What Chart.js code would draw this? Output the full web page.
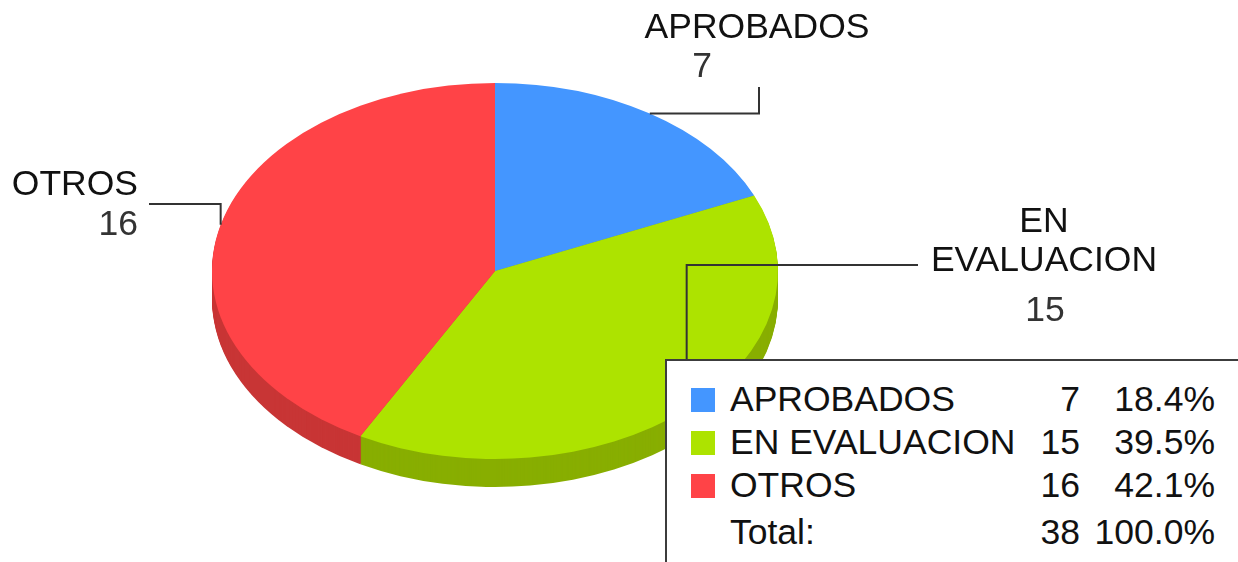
<!DOCTYPE html>
<html>
<head>
<meta charset="utf-8">
<script src="https://cdn.jsdelivr.net/npm/chart.js@4.4.0/dist/chart.umd.min.js"></script>
<style>
  html, body { margin: 0; padding: 0; background: #fff; overflow: hidden; }
  #root { position: relative; width: 1238px; height: 562px; overflow: hidden; font-family: "Liberation Sans", Arial, sans-serif; }
  #root canvas { position: absolute; left: 0; top: 0; }
  .txt { position: absolute; font-size: 35.5px; line-height: 35px; white-space: nowrap; color: #111; }
  .box { position: absolute; left: 665px; top: 359px; width: 640px; height: 260px; border: 2px solid #3c3c3c; background: #fff; }
  .sw { position: absolute; width: 24px; height: 24px; }
</style>
</head>
<body>
<div id="root">
  <canvas id="pie" width="1238" height="562"></canvas>
</div>
<script>
// data
const labels = ['APROBADOS', 'EN EVALUACION', 'OTROS'];
const values = [7, 15, 16];
const totalLabel = 'Total:';

// colours
const topColors = ['#4496FF', '#ADE300', '#FF4347'];
const sideColors = ['#3778CC', '#88AE00', '#C83535'];

// 3d look
const CY = 271;          // screen centre of the top face
const RADIUS = 283;
const SQUASH = 188 / 283;
const DEPTH = 28;

const root = document.getElementById('root');

function squash(ctx, arcY, dy) {
  ctx.translate(0, CY + dy);
  ctx.scale(1, SQUASH);
  ctx.translate(0, -arcY);
}

const pie3d = {
  id: 'pie3d',
  beforeDatasetsDraw(chart) {
    const ctx = chart.ctx;
    const arcs = chart.getDatasetMeta(0).data;
    // side wall: stacked darker copies of each slice
    for (let d = DEPTH; d > 0; d--) {
      arcs.forEach((arc, i) => {
        ctx.save();
        squash(ctx, arc.y, d);
        const o = arc.options;
        arc.options = Object.assign({}, o, { backgroundColor: sideColors[i] });
        arc.draw(ctx);
        arc.options = o;
        ctx.restore();
      });
    }
    ctx.save();
    squash(ctx, arcs[0].y, 0);
  },
  afterDatasetsDraw(chart) {
    chart.ctx.restore();
  },
  afterDraw(chart) {
    const ctx = chart.ctx;
    const arcs = chart.getDatasetMeta(0).data;
    // anchor of each leader line = middle of the slice rim
    const anchors = arcs.map(arc => {
      const mid = (arc.startAngle + arc.endAngle) / 2;
      return [arc.x + arc.outerRadius * Math.cos(mid), CY + arc.outerRadius * Math.sin(mid) * SQUASH];
    });
    const paths = [
      [anchors[0], [759, anchors[0][1]], [759, 87]],
      [anchors[1], [anchors[1][0], 265], [918, 265]],
      [anchors[2], [anchors[2][0], 204], [149, 204]]
    ];
    ctx.save();
    ctx.strokeStyle = '#333';
    ctx.lineWidth = 2;
    paths.forEach(p => {
      ctx.beginPath();
      ctx.moveTo(p[0][0], p[0][1]);
      for (let k = 1; k < p.length; k++) ctx.lineTo(p[k][0], p[k][1]);
      ctx.stroke();
    });
    ctx.restore();
  }
};

new Chart(document.getElementById('pie'), {
  type: 'pie',
  data: {
    labels: labels,
    datasets: [{
      data: values,
      backgroundColor: topColors,
      borderWidth: 0,
      radius: RADIUS,
      clip: false
    }]
  },
  options: {
    responsive: false,
    devicePixelRatio: 1,
    animation: false,
    events: [],
    layout: { padding: { left: 0, right: 248, top: 0, bottom: 20 } },
    plugins: { legend: { display: false }, tooltip: { enabled: false } }
  },
  plugins: [pie3d]
});

// text helper: x + baseline, align left/center/right
function text(str, x, base, align, color) {
  const el = document.createElement('div');
  el.className = 'txt';
  el.textContent = str;
  el.style.top = (base - 30) + 'px';
  el.style.left = x + 'px';
  if (align === 'center') el.style.transform = 'translateX(-50%)';
  if (align === 'right') el.style.transform = 'translateX(-100%)';
  if (color) el.style.color = color;
  root.appendChild(el);
  return el;
}

// callouts
text(labels[0], 757, 39, 'center');
text(String(values[0]), 702, 78, 'center', '#333');
text('EN', 1044, 233, 'center');
text('EVALUACION', 1044, 272, 'center');
text(String(values[1]), 1045, 322, 'center', '#333');
text(labels[2], 138, 196, 'right');
text(String(values[2]), 138, 236, 'right', '#333');

// legend table
const box = document.createElement('div');
box.className = 'box';
root.appendChild(box);

const total = values.reduce((a, b) => a + b, 0);
labels.forEach((lab, i) => {
  const base = 412 + i * 43;
  const sw = document.createElement('div');
  sw.className = 'sw';
  sw.style.left = '691px';
  sw.style.top = (base - 24) + 'px';
  sw.style.background = topColors[i];
  root.appendChild(sw);
  text(lab, 730, base, 'left');
  text(String(values[i]), 1080, base, 'right');
  text((values[i] / total * 100).toFixed(1) + '%', 1215, base, 'right');
});
text(totalLabel, 730, 545, 'left');
text(String(total), 1080, 545, 'right');
text('100.0%', 1215, 545, 'right');
</script>
</body>
</html>
